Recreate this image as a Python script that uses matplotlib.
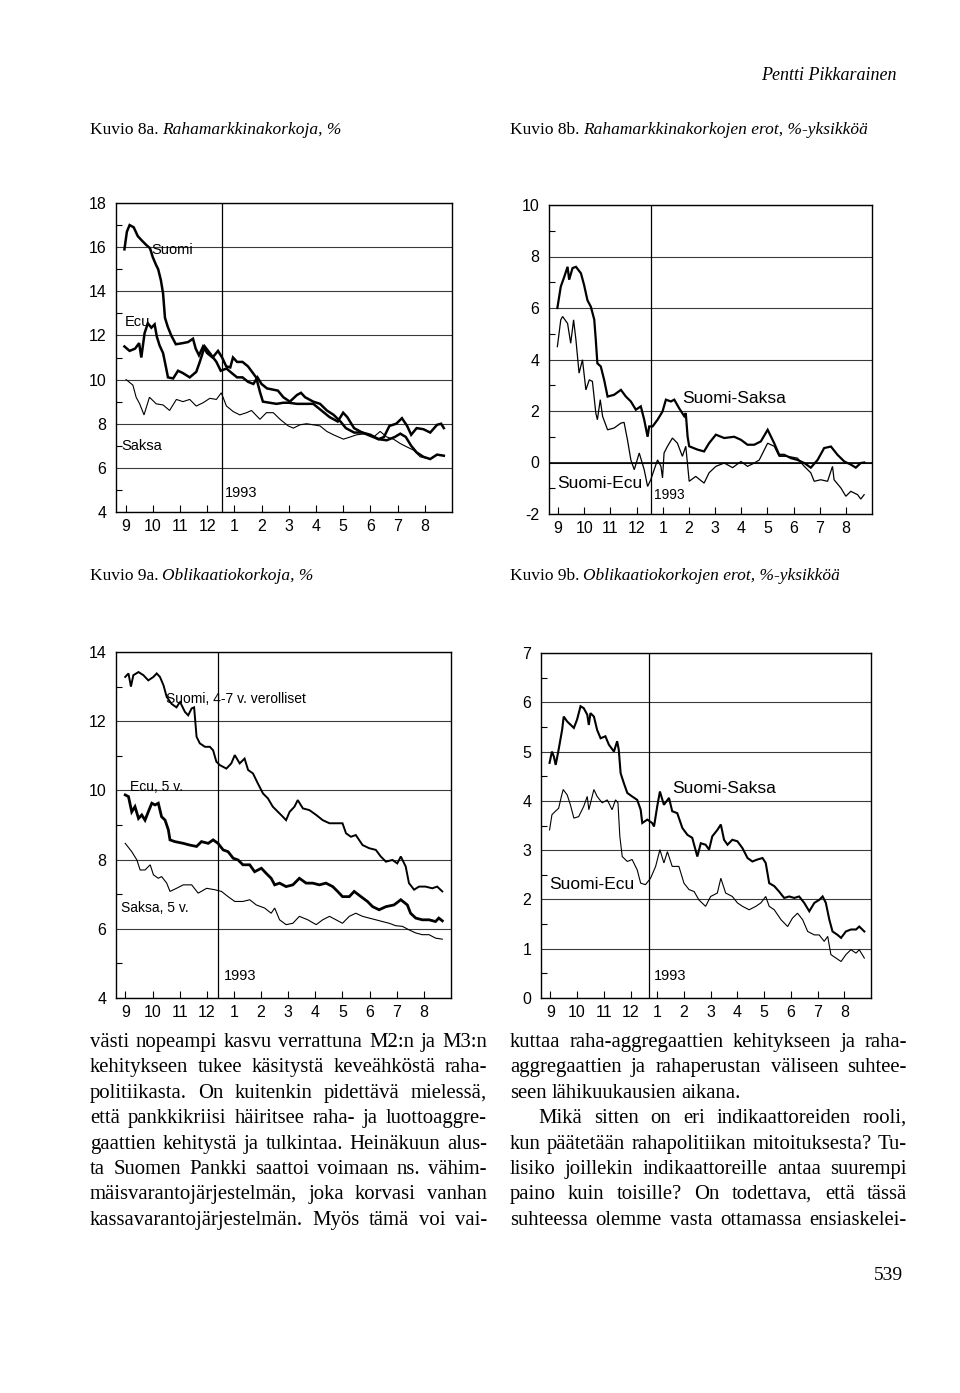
import matplotlib
matplotlib.use("Agg")
import matplotlib.pyplot as plt
import numpy as np
from matplotlib.ticker import MultipleLocator

plt.rcParams["axes.unicode_minus"] = False

# month tick labels (Sep 1992 .. Aug 1993)
months = ['9', '10', '11', '12', '1', '2', '3', '4', '5', '6', '7', '8']

# Kuvio 8a, money market rates, % (x = months from September, y = %)
suomi_8a = [(-0.04, 15.9), (0.05, 16.7), (0.15, 17.0), (0.3, 16.9), (0.45, 16.5), (0.6, 16.3),
            (0.76, 16.1), (0.9, 15.95), (1.0, 15.55), (1.12, 15.2), (1.2, 15.0), (1.3, 14.5),
            (1.38, 13.9), (1.45, 12.8), (1.55, 12.4), (1.68, 12.0), (1.85, 11.6), (2.1, 11.65),
            (2.3, 11.7), (2.48, 11.85), (2.58, 11.4), (2.7, 11.1), (2.85, 11.5), (3.0, 11.2),
            (3.2, 11.0), (3.4, 11.3), (3.55, 11.0), (3.7, 10.6), (3.85, 10.55), (3.95, 11.0),
            (4.1, 10.8), (4.3, 10.8), (4.5, 10.6), (4.65, 10.35), (4.8, 10.1), (4.95, 9.4),
            (5.05, 9.0), (5.3, 8.95), (5.55, 8.9), (5.8, 8.95), (6.0, 8.95), (6.3, 8.9),
            (6.6, 8.9), (6.9, 8.9), (7.2, 8.6), (7.5, 8.3), (7.8, 8.1), (8.0, 8.5), (8.15, 8.3),
            (8.4, 7.8), (8.7, 7.6), (9.0, 7.45), (9.3, 7.3), (9.6, 7.25), (9.9, 7.4), (10.1, 7.55),
            (10.3, 7.4), (10.5, 7.0), (10.7, 6.7), (10.95, 6.5), (11.2, 6.4), (11.45, 6.6), (11.7, 6.55)]
ecu_8a = [(-0.04, 11.5), (0.15, 11.3), (0.35, 11.4), (0.5, 11.65), (0.58, 11.0), (0.7, 12.1),
          (0.82, 12.55), (0.95, 12.35), (1.07, 12.5), (1.15, 11.95), (1.25, 11.55), (1.38, 11.2),
          (1.48, 10.6), (1.56, 10.1), (1.75, 10.05), (1.93, 10.4), (2.1, 10.3), (2.36, 10.1),
          (2.6, 10.35), (2.73, 10.8), (2.91, 11.5), (3.1, 11.2), (3.34, 10.8), (3.5, 10.4),
          (3.71, 10.5), (3.9, 10.3), (4.1, 10.1), (4.3, 10.1), (4.5, 9.9), (4.7, 9.8), (4.85, 10.1),
          (5.0, 9.8), (5.2, 9.6), (5.4, 9.55), (5.6, 9.5), (5.8, 9.2), (6.04, 9.0), (6.3, 9.3),
          (6.45, 9.4), (6.6, 9.2), (6.9, 9.0), (7.15, 8.9), (7.4, 8.6), (7.65, 8.4), (7.9, 8.1),
          (8.1, 7.8), (8.4, 7.6), (8.7, 7.6), (9.0, 7.5), (9.3, 7.3), (9.5, 7.4), (9.7, 7.9),
          (9.95, 8.0), (10.16, 8.25), (10.35, 7.9), (10.5, 7.5), (10.7, 7.8), (10.95, 7.75),
          (11.2, 7.6), (11.45, 7.95), (11.6, 8.0), (11.7, 7.8)]
saksa_8a = [(0.02, 10.0), (0.27, 9.75), (0.39, 9.2), (0.52, 8.9), (0.68, 8.4), (0.88, 9.2),
            (1.13, 8.9), (1.38, 8.85), (1.62, 8.6), (1.87, 9.1), (2.11, 9.0), (2.36, 9.1),
            (2.6, 8.8), (2.85, 8.95), (3.1, 9.15), (3.34, 9.1), (3.52, 9.4), (3.71, 8.8),
            (3.96, 8.55), (4.2, 8.4), (4.45, 8.5), (4.63, 8.6), (4.94, 8.2), (5.18, 8.5),
            (5.43, 8.5), (5.68, 8.2), (5.98, 7.9), (6.17, 7.8), (6.41, 7.95), (6.66, 8.0),
            (6.9, 7.95), (7.15, 7.9), (7.4, 7.65), (7.64, 7.5), (8.01, 7.3), (8.26, 7.4),
            (8.5, 7.5), (8.87, 7.55), (9.12, 7.4), (9.36, 7.65), (9.6, 7.4), (9.85, 7.3),
            (10.1, 7.1), (10.34, 6.95), (10.59, 6.8), (10.83, 6.5), (11.2, 6.4), (11.45, 6.6),
            (11.7, 6.55)]

# Kuvio 8b, spreads, %-points
suomi_saksa_8b = [(-0.03, 6.0), (0.10, 6.83), (0.23, 7.2), (0.36, 7.6), (0.42, 7.1), (0.55, 7.55),
                  (0.68, 7.6), (0.87, 7.35), (0.99, 6.9), (1.12, 6.3), (1.25, 6.05), (1.38, 5.55),
                  (1.44, 4.75), (1.50, 3.85), (1.63, 3.73), (1.76, 3.2), (1.89, 2.56), (2.14, 2.63),
                  (2.40, 2.82), (2.59, 2.56), (2.78, 2.37), (2.97, 2.05), (3.16, 2.18), (3.29, 1.66),
                  (3.42, 1.0), (3.48, 1.4), (3.61, 1.4), (3.80, 1.66), (3.99, 1.98), (4.12, 2.44),
                  (4.31, 2.37), (4.44, 2.44), (4.63, 2.1), (4.82, 1.8), (4.88, 1.92), (4.95, 1.0),
                  (5.01, 0.63), (5.33, 0.5), (5.58, 0.43), (5.77, 0.75), (6.03, 1.08), (6.35, 0.95),
                  (6.73, 1.0), (6.99, 0.88), (7.24, 0.69), (7.50, 0.69), (7.75, 0.82), (8.01, 1.27),
                  (8.26, 0.75), (8.45, 0.3), (8.64, 0.3), (8.90, 0.17), (9.15, 0.1), (9.41, -0.02),
                  (9.66, -0.2), (9.92, 0.1), (10.17, 0.56), (10.43, 0.62), (10.68, 0.3), (10.94, 0.04),
                  (11.19, -0.08), (11.38, -0.2), (11.57, -0.02), (11.70, 0.0)]
suomi_ecu_8b = [(-0.03, 4.5), (0.10, 5.54), (0.17, 5.67), (0.36, 5.4), (0.48, 4.63), (0.59, 5.54),
                (0.68, 4.76), (0.80, 3.47), (0.93, 3.99), (1.06, 2.82), (1.19, 3.21), (1.31, 3.15),
                (1.44, 1.92), (1.50, 1.66), (1.61, 2.44), (1.70, 1.79), (1.89, 1.27), (2.14, 1.34),
                (2.40, 1.53), (2.52, 1.56), (2.65, 0.88), (2.78, 0.1), (2.91, -0.28), (3.10, 0.37),
                (3.29, -0.28), (3.42, -0.93), (3.54, -0.67), (3.67, -0.28), (3.80, 0.1), (3.93, -0.15),
                (3.99, -0.6), (4.05, 0.37), (4.18, 0.63), (4.37, 0.95), (4.56, 0.75), (4.75, 0.24),
                (4.88, 0.63), (5.01, -0.73), (5.26, -0.54), (5.58, -0.8), (5.77, -0.4), (6.03, -0.15),
                (6.35, -0.02), (6.67, -0.2), (6.99, 0.04), (7.24, -0.15), (7.50, -0.02), (7.69, 0.1),
                (8.01, 0.75), (8.26, 0.63), (8.45, 0.24), (8.77, 0.24), (9.15, 0.17), (9.41, -0.15),
                (9.66, -0.4), (9.79, -0.73), (10.04, -0.67), (10.30, -0.73), (10.49, -0.15),
                (10.55, -0.67), (10.81, -0.99), (11.00, -1.31), (11.19, -1.12), (11.45, -1.25),
                (11.57, -1.42), (11.70, -1.25)]

# Kuvio 9a, bond yields, %
suomi_9a = [(-0.01, 13.28), (0.11, 13.38), (0.20, 13.0), (0.29, 13.33), (0.48, 13.42), (0.66, 13.33),
            (0.84, 13.18), (1.03, 13.28), (1.15, 13.38), (1.27, 13.28), (1.40, 13.04), (1.52, 12.7),
            (1.70, 12.5), (1.88, 12.4), (2.01, 12.56), (2.19, 12.27), (2.31, 12.17), (2.44, 12.37),
            (2.53, 12.4), (2.62, 11.55), (2.74, 11.36), (2.93, 11.26), (3.11, 11.26), (3.23, 11.16),
            (3.35, 10.83), (3.48, 10.73), (3.72, 10.63), (3.90, 10.78), (4.03, 11.02), (4.21, 10.78),
            (4.39, 10.92), (4.52, 10.59), (4.70, 10.49), (4.88, 10.2), (5.07, 9.91), (5.25, 9.77),
            (5.43, 9.53), (5.62, 9.38), (5.80, 9.24), (5.92, 9.14), (6.05, 9.38), (6.23, 9.53),
            (6.35, 9.72), (6.54, 9.48), (6.78, 9.43), (7.03, 9.29), (7.27, 9.14), (7.52, 9.05),
            (7.76, 9.05), (8.00, 9.05), (8.13, 8.76), (8.31, 8.66), (8.49, 8.71), (8.74, 8.42),
            (8.98, 8.33), (9.23, 8.28), (9.41, 8.09), (9.60, 7.94), (9.84, 7.99), (10.02, 7.89),
            (10.15, 8.09), (10.33, 7.8), (10.45, 7.32), (10.64, 7.13), (10.82, 7.22), (11.06, 7.22),
            (11.31, 7.17), (11.49, 7.22), (11.68, 7.08)]
ecu_9a = [(-0.01, 9.87), (0.11, 9.82), (0.23, 9.38), (0.35, 9.53), (0.48, 9.19), (0.60, 9.29),
          (0.72, 9.14), (0.84, 9.38), (0.97, 9.63), (1.09, 9.58), (1.21, 9.63), (1.33, 9.24),
          (1.46, 9.14), (1.58, 8.86), (1.64, 8.57), (1.82, 8.52), (2.13, 8.47), (2.37, 8.42),
          (2.62, 8.38), (2.80, 8.52), (3.05, 8.47), (3.23, 8.57), (3.41, 8.47), (3.60, 8.28),
          (3.78, 8.23), (3.97, 8.04), (4.15, 7.99), (4.33, 7.85), (4.58, 7.85), (4.76, 7.65),
          (5.01, 7.75), (5.19, 7.6), (5.37, 7.46), (5.50, 7.27), (5.68, 7.32), (5.92, 7.22),
          (6.17, 7.27), (6.41, 7.46), (6.66, 7.32), (6.90, 7.32), (7.15, 7.27), (7.39, 7.32),
          (7.64, 7.22), (7.82, 7.08), (8.00, 6.93), (8.25, 6.93), (8.43, 7.08), (8.68, 6.93),
          (8.92, 6.79), (9.11, 6.64), (9.35, 6.55), (9.60, 6.64), (9.90, 6.69), (10.15, 6.84),
          (10.39, 6.69), (10.51, 6.45), (10.70, 6.31), (10.94, 6.26), (11.19, 6.26), (11.43, 6.21),
          (11.55, 6.31), (11.68, 6.23)]
saksa_9a = [(-0.01, 8.47), (0.23, 8.23), (0.42, 7.99), (0.54, 7.7), (0.72, 7.7), (0.91, 7.85),
            (1.03, 7.56), (1.21, 7.46), (1.33, 7.51), (1.52, 7.32), (1.64, 7.08), (1.88, 7.17),
            (2.13, 7.27), (2.44, 7.27), (2.68, 7.03), (2.99, 7.17), (3.29, 7.13), (3.54, 7.08),
            (3.78, 6.93), (4.03, 6.79), (4.33, 6.79), (4.58, 6.84), (4.82, 6.69), (5.13, 6.6),
            (5.37, 6.45), (5.50, 6.6), (5.68, 6.26), (5.92, 6.12), (6.17, 6.16), (6.41, 6.36),
            (6.72, 6.26), (7.03, 6.12), (7.27, 6.26), (7.52, 6.36), (7.76, 6.26), (8.00, 6.16),
            (8.25, 6.36), (8.49, 6.45), (8.74, 6.36), (8.98, 6.31), (9.23, 6.26), (9.47, 6.21),
            (9.72, 6.16), (9.96, 6.09), (10.21, 6.07), (10.45, 5.97), (10.70, 5.88), (10.94, 5.83),
            (11.19, 5.83), (11.43, 5.73), (11.68, 5.7)]

# Kuvio 9b, yield spreads, %-points
suomi_saksa_9b = [(-0.03, 4.77), (0.06, 5.0), (0.13, 4.9), (0.20, 4.73), (0.31, 5.04), (0.44, 5.44),
                  (0.50, 5.71), (0.63, 5.61), (0.88, 5.48), (1.00, 5.65), (1.13, 5.92), (1.25, 5.88),
                  (1.38, 5.75), (1.44, 5.54), (1.50, 5.78), (1.63, 5.71), (1.75, 5.44), (1.88, 5.27),
                  (2.06, 5.31), (2.19, 5.14), (2.38, 5.0), (2.50, 5.21), (2.56, 5.04), (2.63, 4.56),
                  (2.75, 4.36), (2.88, 4.16), (3.06, 4.09), (3.25, 4.02), (3.38, 3.82), (3.44, 3.55),
                  (3.63, 3.62), (3.81, 3.55), (3.88, 3.48), (4.00, 3.89), (4.10, 4.19), (4.25, 3.92),
                  (4.44, 4.06), (4.56, 3.79), (4.75, 3.75), (4.94, 3.45), (5.13, 3.31), (5.31, 3.25),
                  (5.50, 2.87), (5.63, 3.14), (5.81, 3.11), (5.94, 3.01), (6.06, 3.28), (6.25, 3.41),
                  (6.38, 3.52), (6.50, 3.21), (6.63, 3.11), (6.81, 3.21), (7.00, 3.18), (7.19, 3.04),
                  (7.38, 2.84), (7.56, 2.77), (7.75, 2.81), (7.94, 2.84), (8.06, 2.74), (8.19, 2.33),
                  (8.38, 2.27), (8.56, 2.16), (8.75, 2.03), (8.94, 2.06), (9.13, 2.03), (9.31, 2.06),
                  (9.50, 1.93), (9.69, 1.76), (9.88, 1.93), (10.06, 1.99), (10.19, 2.06), (10.31, 1.93),
                  (10.44, 1.59), (10.56, 1.35), (10.75, 1.28), (10.88, 1.22), (11.06, 1.35), (11.25, 1.39),
                  (11.44, 1.39), (11.56, 1.45), (11.75, 1.35)]
suomi_ecu_9b = [(-0.03, 3.41), (0.06, 3.72), (0.19, 3.79), (0.31, 3.85), (0.40, 4.06), (0.48, 4.23),
                (0.63, 4.12), (0.75, 3.92), (0.88, 3.65), (1.06, 3.68), (1.25, 3.89), (1.38, 4.09),
                (1.44, 3.82), (1.63, 4.23), (1.75, 4.09), (1.94, 3.96), (2.13, 4.02), (2.31, 3.82),
                (2.44, 4.02), (2.53, 3.96), (2.60, 3.28), (2.69, 2.87), (2.88, 2.77), (3.06, 2.81),
                (3.25, 2.6), (3.38, 2.33), (3.56, 2.3), (3.75, 2.43), (3.94, 2.67), (4.10, 3.01),
                (4.25, 2.74), (4.38, 2.97), (4.56, 2.67), (4.81, 2.67), (5.00, 2.33), (5.19, 2.2),
                (5.38, 2.16), (5.56, 1.99), (5.81, 1.86), (6.00, 2.06), (6.25, 2.13), (6.38, 2.43),
                (6.56, 2.13), (6.81, 2.06), (7.00, 1.93), (7.19, 1.86), (7.44, 1.79), (7.69, 1.86),
                (7.88, 1.93), (8.06, 2.06), (8.19, 1.86), (8.38, 1.79), (8.63, 1.59), (8.88, 1.45),
                (9.06, 1.62), (9.25, 1.72), (9.44, 1.59), (9.63, 1.35), (9.88, 1.28), (10.06, 1.28),
                (10.25, 1.15), (10.38, 1.25), (10.50, 0.88), (10.69, 0.81), (10.88, 0.74), (11.06, 0.88),
                (11.25, 0.98), (11.44, 0.91), (11.56, 0.98), (11.75, 0.81)]

# body text (two columns)
left_lines = ["västi nopeampi kasvu verrattuna M2:n ja M3:n",
              "kehitykseen tukee käsitystä keveähköstä raha-",
              "politiikasta. On kuitenkin pidettävä mielessä,",
              "että pankkikriisi häiritsee raha- ja luottoaggre-",
              "gaattien kehitystä ja tulkintaa. Heinäkuun alus-",
              "ta Suomen Pankki saattoi voimaan ns. vähim-",
              "mäisvarantojärjestelmän, joka korvasi vanhan",
              "kassavarantojärjestelmän. Myös tämä voi vai-"]
right_lines = ["kuttaa raha-aggregaattien kehitykseen ja raha-",
               "aggregaattien ja rahaperustan väliseen suhtee-",
               "seen lähikuukausien aikana.",
               "Mikä sitten on eri indikaattoreiden rooli,",
               "kun päätetään rahapolitiikan mitoituksesta? Tu-",
               "lisiko joillekin indikaattoreille antaa suurempi",
               "paino kuin toisille? On todettava, että tässä",
               "suhteessa olemme vasta ottamassa ensiaskelei-"]

W, H = 960, 1393
fig = plt.figure(figsize=(W / 100, H / 100), dpi=100)
fig.patch.set_facecolor("white")
renderer = fig.canvas.get_renderer()

SANS = ["Liberation Sans Narrow", "Liberation Sans", "DejaVu Sans"]
SERIF = ["Liberation Serif", "DejaVu Serif"]


def fx(px):
    return px / W


def fy(py):
    return 1 - py / H


def make_axes(l, r, t, b, ylim, major, minor, year_x):
    ax = fig.add_axes([fx(l), fy(b), fx(r - l), (b - t) / H])
    ax.set_xlim(-0.35, 12.0)
    ax.set_ylim(*ylim)
    ax.set_xticks(range(12), months)
    ax.yaxis.set_major_locator(MultipleLocator(major))
    ax.yaxis.set_minor_locator(MultipleLocator(minor))
    ax.tick_params(axis="both", which="both", direction="in", width=0.8,
                   labelsize=11.5, colors="black")
    ax.tick_params(axis="x", length=5, pad=5)
    ax.tick_params(axis="y", which="major", length=0, pad=7)
    ax.tick_params(axis="y", which="minor", length=4)
    for lab in ax.get_xticklabels() + ax.get_yticklabels():
        lab.set_family(["Liberation Sans", "DejaVu Sans"])
    ax.grid(axis="y", which="major", color="#3a3a3a", linewidth=0.8)
    ax.axvline(year_x, color="black", linewidth=0.9)
    for s in ax.spines.values():
        s.set_linewidth(1.0)
    return ax


def series(ax, pts, lw):
    x, y = np.array(pts).T
    ax.plot(x, y, color="black", linewidth=lw, solid_joinstyle="miter")


def label(ax, x, y, s, size):
    ax.text(x, y, s, fontsize=size, family=SANS, va="center", ha="left")


# ---- Kuvio 8a
ax = make_axes(116, 452, 203, 512, (4, 18), 2, 1, 3.53)
series(ax, saksa_8a, 0.8)
series(ax, ecu_8a, 1.8)
series(ax, suomi_8a, 1.8)
label(ax, 0.95, 15.85, "Suomi", 10.5)
label(ax, -0.04, 12.6, "Ecu", 10.5)
label(ax, -0.16, 7.0, "Saksa", 10.5)
label(ax, 3.65, 4.86, "1993", 10.5)

# ---- Kuvio 8b
ax = make_axes(549, 872, 205, 514, (-2, 10), 2, 1, 3.54)
ax.axhline(0, color="black", linewidth=1.2)
series(ax, suomi_ecu_8b, 0.9)
series(ax, suomi_saksa_8b, 1.6)
label(ax, 4.75, 2.5, "Suomi-Saksa", 12.5)
label(ax, -0.03, -0.8, "Suomi-Ecu", 12.5)
label(ax, 3.67, -1.25, "1993", 10)

# ---- Kuvio 9a
ax = make_axes(116, 451, 652, 998, (4, 14), 2, 1, 3.41)
series(ax, saksa_9a, 0.8)
series(ax, ecu_9a, 2.0)
series(ax, suomi_9a, 1.4)
label(ax, 1.49, 12.65, "Suomi, 4-7 v. verolliset", 10)
label(ax, 0.15, 10.1, "Ecu, 5 v.", 10)
label(ax, -0.17, 6.6, "Saksa, 5 v.", 10)
label(ax, 3.62, 4.63, "1993", 10.5)

# ---- Kuvio 9b
ax = make_axes(541, 871, 653, 998, (0, 7), 1, 0.5, 3.69)
series(ax, suomi_ecu_9b, 0.8)
series(ax, suomi_saksa_9b, 1.5)
label(ax, 4.56, 4.26, "Suomi-Saksa", 12.5)
label(ax, -0.06, 2.3, "Suomi-Ecu", 12.5)
label(ax, 3.88, 0.44, "1993", 10.5)


# ---- page texts
def width_of(t):
    return t.get_window_extent(renderer).width


def title(x, y, lead, rest, size=12.5):
    t = fig.text(fx(x), fy(y), lead, fontsize=size, family=SERIF, va="baseline")
    w = width_of(t)
    fig.text(fx(x + w + size * 0.3), fy(y), rest, fontsize=size, family=SERIF,
             style="italic", va="baseline")


fig.text(fx(897), fy(80), "Pentti Pikkarainen", fontsize=13, family=SERIF,
         style="italic", ha="right", va="baseline")
title(90, 134, "Kuvio 8a.", "Rahamarkkinakorkoja, %")
title(510, 134, "Kuvio 8b.", "Rahamarkkinakorkojen erot, %-yksikköä")
title(90, 580, "Kuvio 9a.", "Oblikaatiokorkoja, %")
title(510, 580, "Kuvio 9b.", "Oblikaatiokorkojen erot, %-yksikköä")


def natural_width(s, size):
    t = fig.text(0, 0, s, fontsize=size, family=SERIF)
    w = width_of(t)
    t.remove()
    return w


# choose the body size so the tightest justified line fits with a normal space
probe = 14.0
col_w = 397
fits = [probe * col_w / natural_width(s, probe) for s in left_lines + right_lines[:2] + right_lines[4:]]
fits.append(probe * (col_w - 28) / natural_width(right_lines[3], probe))
body_size = min(fits)


def text_line(s, x0, x1, y, size, justify):
    words = s.split()
    base = fy(round(y + size * 0.33))
    objs, tails = [], []
    for w in words:
        # trailing commas are drawn on their own so the word keeps the line's baseline
        core, tail = (w[:-1], ",") if w.endswith(",") else (w, "")
        objs.append(fig.text(0, base, core, fontsize=size, family=SERIF, va="baseline"))
        tails.append(fig.text(0, base, tail, fontsize=size, family=SERIF, va="baseline") if tail else None)
    core_w = [width_of(o) for o in objs]
    tail_w = [width_of(t) if t is not None else 0 for t in tails]
    widths = [a + b for a, b in zip(core_w, tail_w)]
    if justify and len(words) > 1:
        gap = (x1 - x0 - sum(widths)) / (len(words) - 1)
    else:
        gap = size * 0.33
    x = x0
    for o, t, cw, w in zip(objs, tails, core_w, widths):
        o.set_x(fx(x))
        if t is not None:
            t.set_x(fx(x + cw - 2))
        x += w + gap


line_y0, line_dy = 1042, 25.4
for i, s in enumerate(left_lines):
    text_line(s, 90, 487, line_y0 + i * line_dy, body_size, True)
for i, s in enumerate(right_lines):
    x0 = 538 if i == 3 else 510
    text_line(s, x0, 907, line_y0 + i * line_dy, body_size, i != 2)

fig.text(fx(903), fy(1280), "539", fontsize=14, family=SERIF, ha="right", va="baseline")

fig.savefig("out.png", dpi=100, facecolor="white")
